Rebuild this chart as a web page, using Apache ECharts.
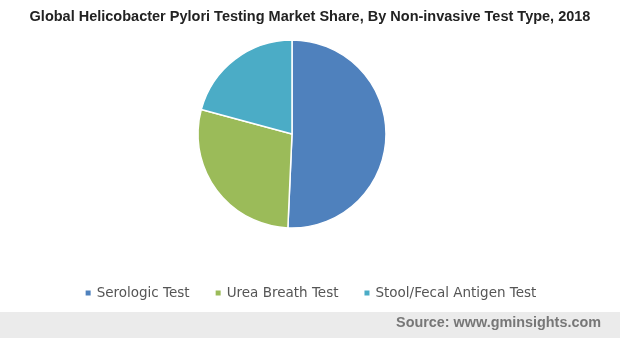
<!DOCTYPE html>
<html><head><meta charset="utf-8">
<script src="https://cdn.jsdelivr.net/npm/echarts@6/dist/echarts.min.js"></script>
<style>html,body{margin:0;padding:0;background:#fff}#c{width:620px;height:338px}</style>
</head><body><div id="c"></div>
<script>
const categories = ['Serologic Test', 'Urea Breath Test', 'Stool/Fecal Antigen Test'];
const shares = [50.7, 28.5, 20.8];
const colors = ['#4f81bd', '#9bbb59', '#4bacc6'];

const chart = echarts.init(document.getElementById('c'), null, {renderer: 'canvas'});
chart.setOption({
  animation: false,
  title: {
    text: 'Global Helicobacter Pylori Testing Market Share, By Non-invasive Test Type, 2018',
    left: 'center', top: 4,
    textStyle: {fontFamily: 'Liberation Sans, Arial', fontWeight: 'bold', fontSize: 14.5, color: '#222'}
  },
  color: colors,
  legend: {
    top: 281, left: 'center',
    icon: 'rect', itemWidth: 7, itemHeight: 7, itemGap: 24,
    textStyle: {fontFamily: 'DejaVu Sans, Verdana', fontSize: 13.5, color: '#555'},
    data: categories
  },
  graphic: [
    {type: 'rect', left: 0, top: 312, shape: {width: 620, height: 26}, style: {fill: '#ebebeb'}, z: -1},
    {type: 'text', right: 19, top: 316, style: {text: 'Source: www.gminsights.com', fill: '#777', font: 'bold 14.4px "Liberation Sans", Arial'}}
  ],
  series: [{
    type: 'pie',
    center: [292, 134], radius: [0, 94],
    startAngle: 90, clockwise: true,
    label: {show: false}, labelLine: {show: false},
    itemStyle: {borderColor: '#fff', borderWidth: 1.5},
    emphasis: {disabled: true},
    data: categories.map((n, i) => ({name: n, value: shares[i]}))
  }]
});
</script></body></html>
